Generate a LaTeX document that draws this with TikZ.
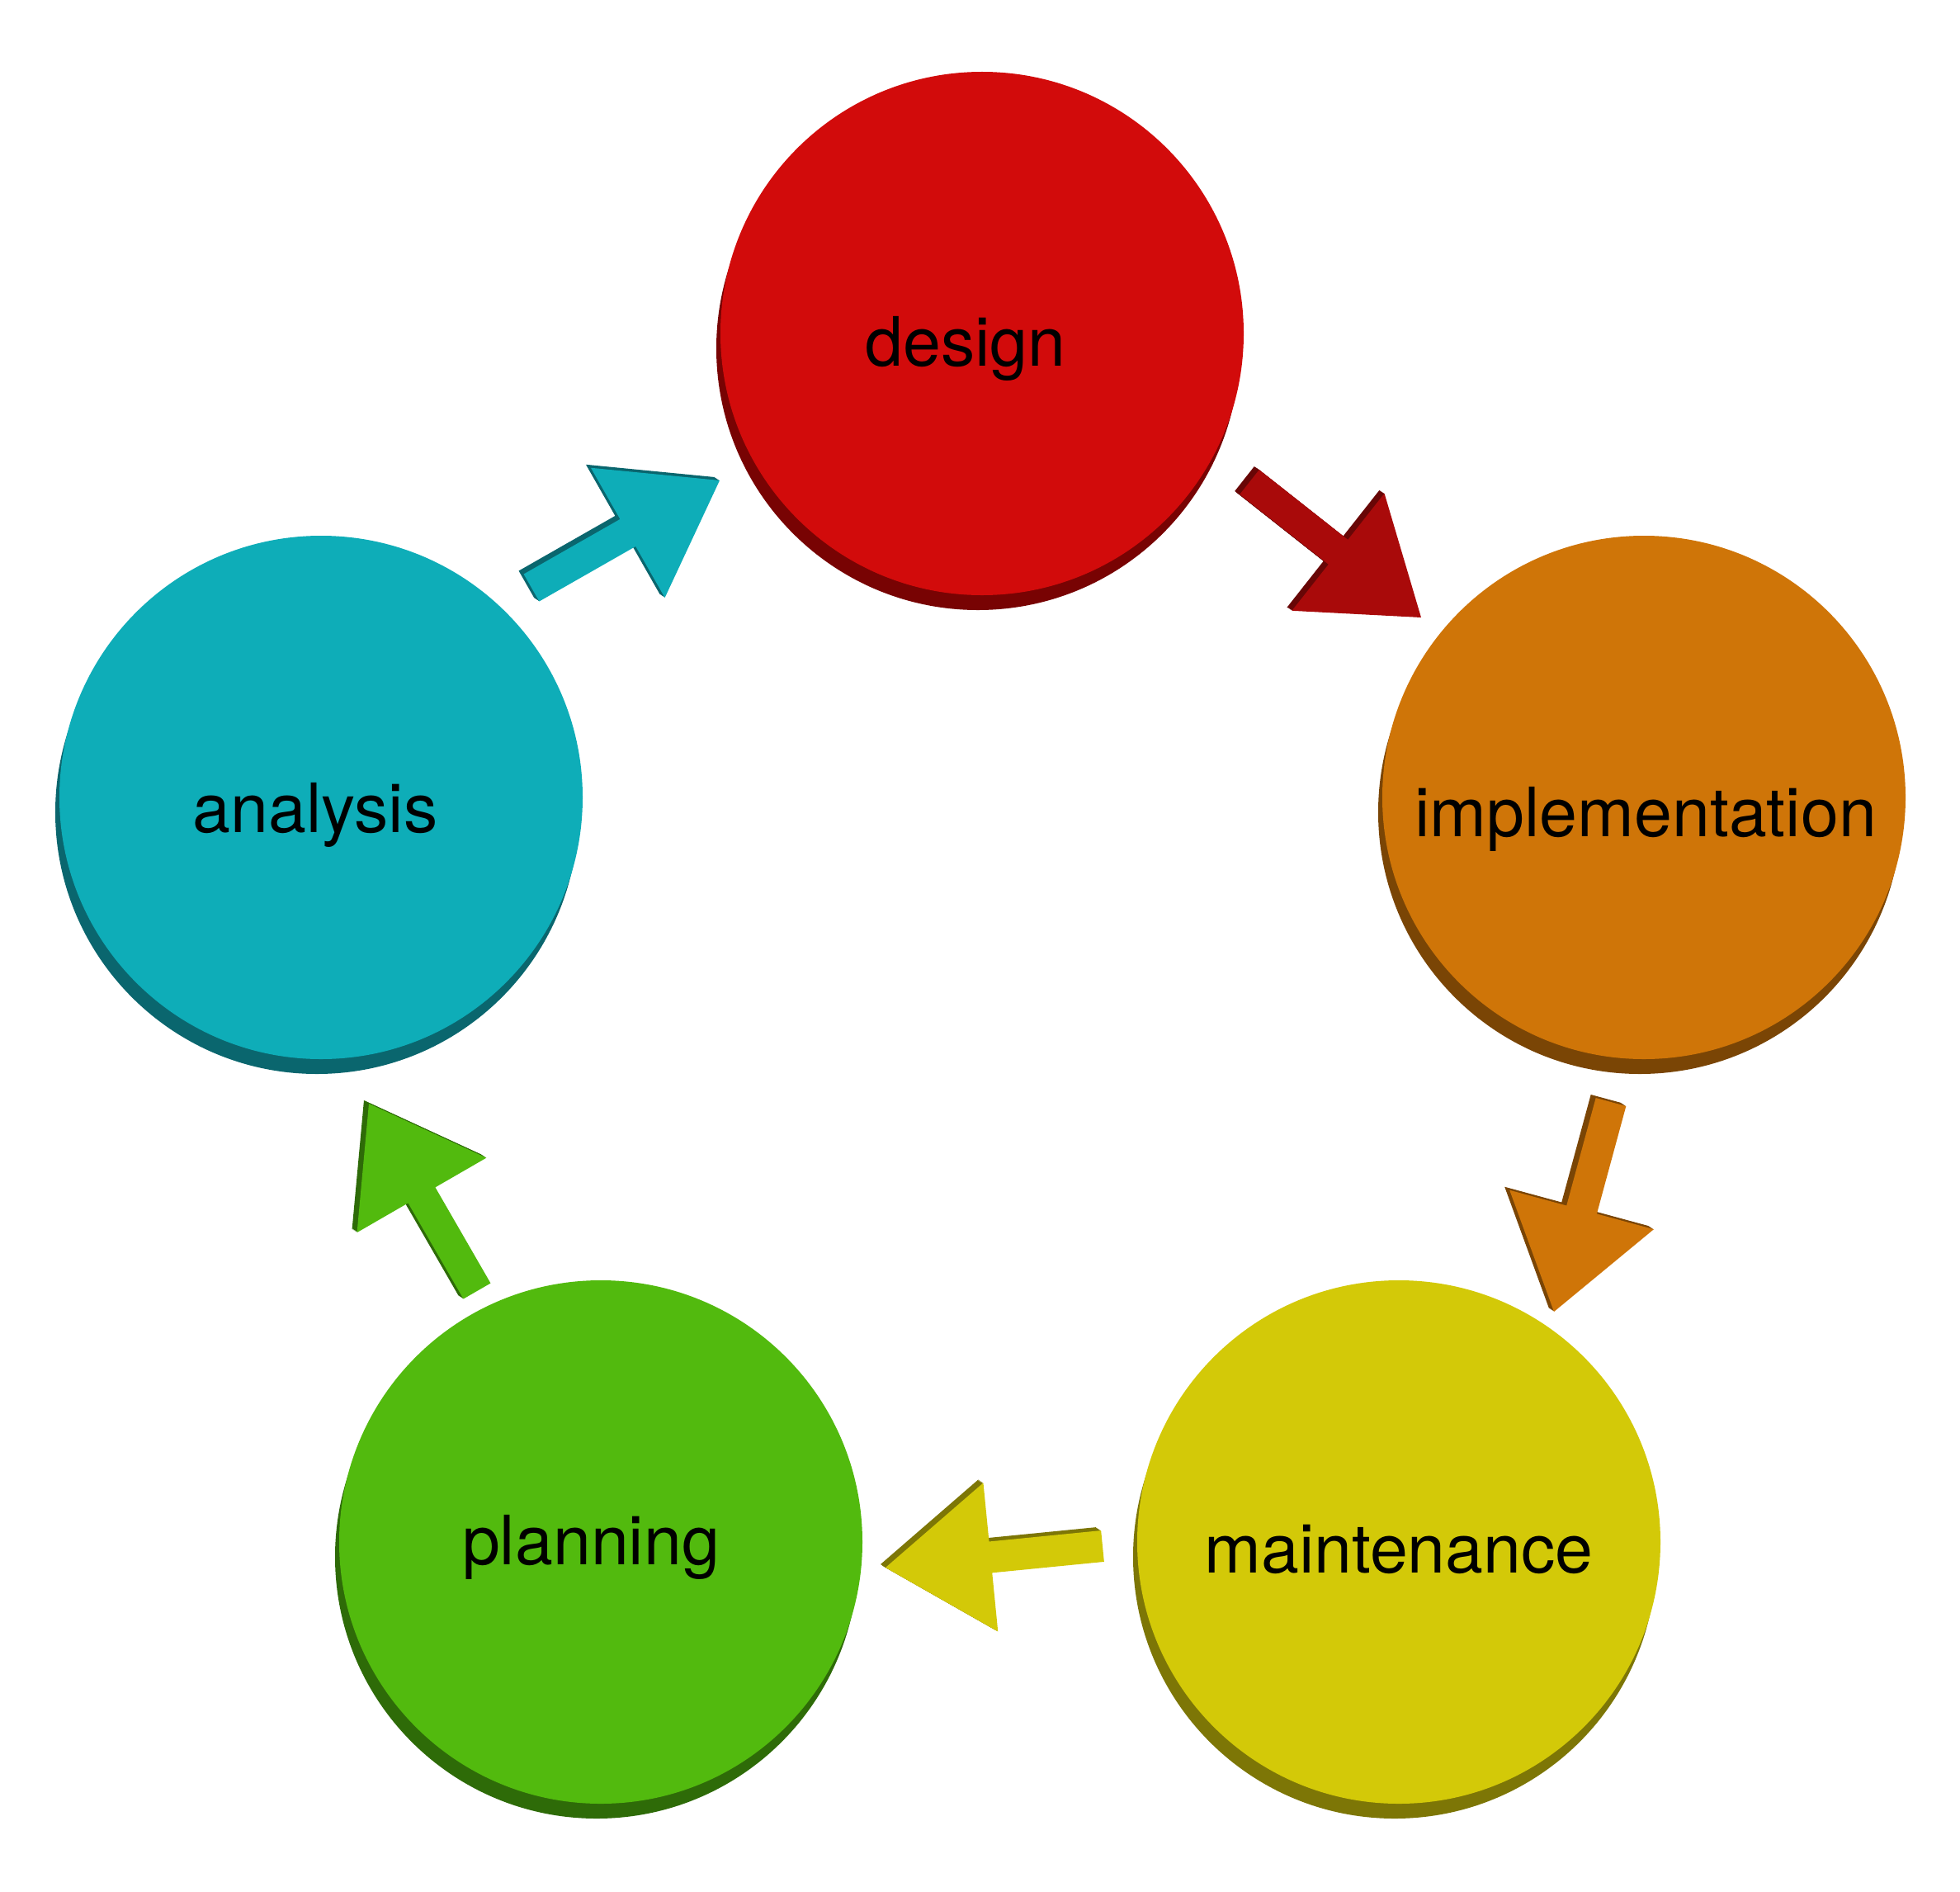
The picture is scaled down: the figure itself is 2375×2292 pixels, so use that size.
\documentclass[tikz,border=0pt]{standalone}
\usepackage{fontspec}
\setmainfont{TeX Gyre Heros}
\usetikzlibrary{calc}
\definecolor{redF}{HTML}{D20B0B}
\definecolor{redS}{HTML}{780303}
\definecolor{redA}{HTML}{A90A0A}
\definecolor{redD}{HTML}{680606}
\definecolor{oraF}{HTML}{CF7508}
\definecolor{oraS}{HTML}{7A4505}
\definecolor{yelF}{HTML}{D3C908}
\definecolor{yelS}{HTML}{7D7606}
\definecolor{grnF}{HTML}{52BA0E}
\definecolor{grnS}{HTML}{2E6B08}
\definecolor{cyaF}{HTML}{0EADB8}
\definecolor{cyaS}{HTML}{0A666E}
\newcommand\blockarrow[5]{% #1 prefix, #2 tail, #3 tip, #4 face, #5 dark
  \coordinate (#1b) at ($(#3)!25.6pt!(#2)$);
  \coordinate (#1s1) at ($(#2)!3.8pt!90:(#3)$);
  \coordinate (#1s2) at ($(#2)!3.8pt!-90:(#3)$);
  \coordinate (#1n1) at ($(#1b)!3.8pt!90:(#3)$);
  \coordinate (#1n2) at ($(#1b)!3.8pt!-90:(#3)$);
  \coordinate (#1h1) at ($(#1b)!18.1pt!90:(#3)$);
  \coordinate (#1h2) at ($(#1b)!18.1pt!-90:(#3)$);
  \foreach \k in {1,...,6}{%
    \begin{scope}[transform canvas={shift={(-0.2pt*\k,0.133pt*\k)}}]
      \fill[#5] (#1s1) -- (#1n1) -- (#1h1) -- (#3) -- (#1h2) -- (#1n2) -- (#1s2) -- cycle;
    \end{scope}}
  \fill[#4] (#1s1) -- (#1n1) -- (#1h1) -- (#3) -- (#1h2) -- (#1n2) -- (#1s2) -- cycle;
}
\begin{document}
\begin{tikzpicture}[x=0.2pt,y=-0.2pt,
  disc/.style={circle, inner sep=0pt, outer sep=0pt, minimum size=126.8pt, fill=#1},
  lbl/.style={anchor=base, inner sep=0pt, text=black, font=\fontsize{16.5}{20}\selectfont}]
\useasboundingbox (0,0) rectangle (2375,2292);

% shadows of discs
\fill[redS] (1185,422) circle[radius=63.4pt];
\fill[oraS] (1987,984) circle[radius=63.4pt];
\fill[yelS] (1690,1886) circle[radius=63.4pt];
\fill[grnS] (723,1886) circle[radius=63.4pt];
\fill[cyaS] (384,984) circle[radius=63.4pt];

% discs
\node[disc=redF] (design) at (1190,404) {};
\node[disc=oraF] (impl) at (1992,966) {};
\node[disc=yelF] (maint) at (1695,1868) {};
\node[disc=grnF] (plan) at (728,1868) {};
\node[disc=cyaF] (anal) at (389,966) {};

% labels
\node[lbl] (tdesign) at (1170,443) {design};
\node[lbl] (timpl) at (1994,1013) {implementation};
\node[lbl] (tmaint) at (1695,1905) {maintenance};
\node[lbl] (tplan) at (716,1895) {planning};
\node[lbl] (tanal) at (382,1008) {analysis};

% arrow end points
\coordinate (a1t) at (1514,584);  \coordinate (a1p) at (1722,748);
\coordinate (a2t) at (1952,1335); \coordinate (a2p) at (1883,1589);
\coordinate (a3t) at (1336,1873); \coordinate (a3p) at (1073,1899);
\coordinate (a4t) at (578,1564);  \coordinate (a4p) at (447,1337);
\coordinate (a5t) at (644,712);   \coordinate (a5p) at (872,582);

\blockarrow{A}{a1t}{a1p}{redA}{redD}
\blockarrow{B}{a2t}{a2p}{oraF}{oraS}
\blockarrow{C}{a3t}{a3p}{yelF}{yelS}
\blockarrow{D}{a4t}{a4p}{grnF}{grnS}
\blockarrow{E}{a5t}{a5p}{cyaF}{cyaS}
\end{tikzpicture}
\end{document}
